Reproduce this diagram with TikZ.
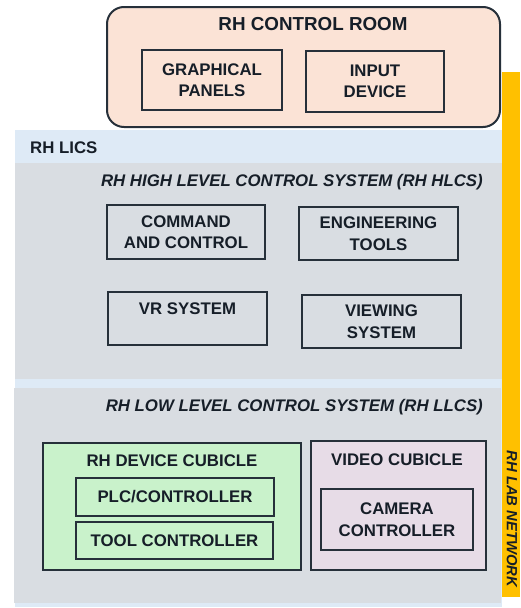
\documentclass[tikz,border=0pt]{standalone}
\usepackage{fontspec}
\setmainfont{Liberation Sans}
\begin{document}
\begin{tikzpicture}[x=1pt,y=-1pt,
  txt/.style={text=inkc,font=\bfseries\fontsize{16.8}{21.5}\selectfont,align=center,inner sep=0pt},
  boxn/.style={txt,draw=linec,line width=1.3pt,rectangle},
  title/.style={text=inkc,font=\bfseries\itshape\fontsize{16.8}{20}\selectfont,inner sep=0pt}]
\definecolor{inkc}{HTML}{161E28}
\definecolor{linec}{HTML}{26303A}
\definecolor{peach}{HTML}{FBE3D6}
\definecolor{licsblue}{HTML}{DEEAF6}
\definecolor{grayp}{HTML}{D9DDE2}
\definecolor{greenp}{HTML}{C9F2CB}
\definecolor{pinkp}{HTML}{E7DCE7}
\definecolor{orangep}{HTML}{FFC000}
\useasboundingbox (0,0) rectangle (520,608);
% LICS background
\fill[licsblue] (15,130) rectangle (502,607);
\node[txt,anchor=west] (lics) at (30,148) {RH LICS};
% HLCS
\fill[grayp] (15,163) rectangle (502,379);
\node[title,anchor=east] (hlcs) at (483,182) {RH HIGH LEVEL CONTROL SYSTEM (RH HLCS)};
\node[boxn,minimum width=158pt,minimum height=54pt] (cc) at (186,232) {COMMAND\\AND CONTROL};
\node[boxn,minimum width=159pt,minimum height=53pt] (et) at (378.5,233.5) {ENGINEERING\\TOOLS};
\node[boxn,minimum width=159pt,minimum height=53pt] (vr) at (187.5,318.5) {};
\node[txt] (vrt) at (187.5,309) {VR SYSTEM};
\node[boxn,minimum width=159pt,minimum height=53pt] (vs) at (381.5,321.5) {VIEWING\\SYSTEM};
% LLCS
\fill[grayp] (14,388) rectangle (501,603);
\node[title,anchor=east] (llcs) at (483,407) {RH LOW LEVEL CONTROL SYSTEM (RH LLCS)};
\node[draw=linec,line width=1.3pt,fill=greenp,minimum width=258pt,minimum height=127pt,inner sep=0pt] (dc) at (172,506.5) {};
\node[txt] (dct) at (172,461) {RH DEVICE CUBICLE};
\node[boxn,minimum width=198pt,minimum height=38pt] (plc) at (175,497) {PLC/CONTROLLER};
\node[boxn,minimum width=197pt,minimum height=37pt] (tc) at (174.5,540.5) {TOOL CONTROLLER};
\node[draw=linec,line width=1.3pt,fill=pinkp,minimum width=175pt,minimum height=129pt,inner sep=0pt] (vc) at (398.5,505.5) {};
\node[txt] (vct) at (397,460) {VIDEO CUBICLE};
\node[boxn,minimum width=152pt,minimum height=61pt] (cam) at (397,519.5) {CAMERA\\CONTROLLER};
% Lab network bar
\fill[orangep] (502,72) rectangle (520,597);
\node[title,font=\bfseries\itshape\fontsize{14.8}{18}\selectfont,rotate=-90] (lab) at (512,519) {RH LAB NETWORK};
% Control room
\node[draw=linec,line width=2pt,fill=peach,rounded corners=17pt,minimum width=393pt,minimum height=120pt,inner sep=0pt] (cr) at (303.5,67) {};
\node[txt,font=\bfseries\fontsize{18.8}{22}\selectfont] (crt) at (313,24) {RH CONTROL ROOM};
\node[boxn,minimum width=140pt,minimum height=60pt] (gp) at (212,80) {GRAPHICAL\\PANELS};
\node[boxn,minimum width=138pt,minimum height=61pt] (id) at (375,81.5) {INPUT\\DEVICE};
\end{tikzpicture}
\end{document}
